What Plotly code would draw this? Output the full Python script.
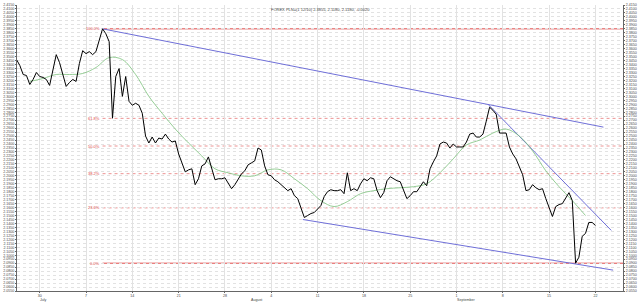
import plotly.graph_objects as go
import pandas as pd

# ---- data ----
price = [2.3463, 2.3388, 2.3275, 2.3263, 2.3150, 2.3213, 2.3300, 2.3250, 2.3238, 2.3213,
         2.3138, 2.3313, 2.3525, 2.3425, 2.3288, 2.3125, 2.3175, 2.3213, 2.3188, 2.3413,
         2.3575, 2.3538, 2.3563, 2.3525, 2.3563, 2.3725, 2.3850, 2.3788, 2.3688, 2.2725,
         2.3250, 2.3350, 2.3000, 2.3250, 2.2938, 2.2888, 2.2913, 2.2888, 2.2788, 2.2500,
         2.2413, 2.2488, 2.2413, 2.2475, 2.2463, 2.2525, 2.2463, 2.2425, 2.2438, 2.2275,
         2.2150, 2.2050, 2.2075, 2.2088, 2.1888, 2.1963, 2.2125, 2.2150, 2.2238, 2.2100,
         2.1950, 2.1963, 2.1963, 2.1975, 2.1900, 2.1838, 2.1888, 2.1963, 2.2025, 2.2063,
         2.2138, 2.2163, 2.2188, 2.2350, 2.2325, 2.2125, 2.2013, 2.2000, 2.1950, 2.1925,
         2.1888, 2.1850, 2.1813, 2.1838, 2.1750, 2.1713, 2.1600, 2.1475, 2.1500, 2.1525,
         2.1538, 2.1588, 2.1625, 2.1738, 2.1800, 2.1825, 2.1813, 2.1813, 2.1825, 2.1775,
         2.2038, 2.1813, 2.1838, 2.1813, 2.1900, 2.1963, 2.1938, 2.1975, 2.1963, 2.1813,
         2.1725, 2.1788, 2.1938, 2.1988, 2.1963, 2.1938, 2.1925, 2.1813, 2.1713, 2.1750,
         2.1800, 2.1800, 2.1863, 2.1925, 2.1875, 2.2088, 2.2175, 2.2250, 2.2400, 2.2425,
         2.2413, 2.2350, 2.2400, 2.2363, 2.2363, 2.2363, 2.2425, 2.2525, 2.2538, 2.2488,
         2.2488, 2.2525, 2.2688, 2.2863, 2.2825, 2.2775, 2.2538, 2.2538, 2.2538, 2.2363,
         2.2275, 2.2213, 2.2113, 2.2013, 2.1813, 2.1825, 2.1888, 2.1850, 2.1825, 2.1838,
         2.1713, 2.1600, 2.1488, 2.1613, 2.1638, 2.1650, 2.1713, 2.1788, 2.1688, 2.0900,
         2.0975, 2.1238, 2.1275, 2.1413, 2.1413, 2.1375]
price_start = "2008-06-26 12:00"
price_freq = "12h"

ma = [2.3188, 2.3225, 2.3275, 2.3275, 2.3288, 2.3363, 2.3488, 2.3463, 2.3275, 2.3000,
      2.2788, 2.2588, 2.2413, 2.2250, 2.2088, 2.2038, 2.2000, 2.2000, 2.2075, 2.2075,
      2.1963, 2.1838, 2.1688, 2.1613, 2.1675, 2.1775, 2.1813, 2.1838, 2.1850, 2.1863,
      2.1900, 2.2038, 2.2213, 2.2388, 2.2450, 2.2538, 2.2588, 2.2500, 2.2313, 2.2063,
      2.1863, 2.1688, 2.1500]
ma_start = "2008-06-28 12:00"
ma_freq = "2D"

fib_high = 2.3850
fib_low = 2.0900
fib_ratios = [1.0, 0.618, 0.5, 0.382, 0.236, 0.0]
fib_labels = ["100.0%", "61.8%", "50.0%", "38.2%", "23.6%", "0.0%"]
fib_start = "2008-07-09 12:00"

trend_x0 = ["2008-07-09 12:00", "2008-09-05 18:30", "2008-08-08 18:30"]
trend_y0 = [2.3850, 2.2900, 2.1450]
trend_x1 = ["2008-09-23 05:00", "2008-09-24 09:20", "2008-09-24 16:20"]
trend_y1 = [2.2613, 2.1313, 2.0813]

tick_dates = ["2008-06-30", "2008-07-07", "2008-07-14", "2008-07-21", "2008-07-28",
              "2008-08-04", "2008-08-11", "2008-08-18", "2008-08-25", "2008-09-01",
              "2008-09-08", "2008-09-15", "2008-09-22"]
tick_labels = ["30", "7", "14", "21", "28", "4", "11", "18", "25", "1", "8", "15", "22"]
month_dates = ["2008-06-30", "2008-08-01", "2008-09-01"]
month_labels = ["July", "August", "September"]

title_text = "FOREX PLN=(1 12/10) 2.3855, 2.1180, 2.1180, -0.0020"

y_range = [2.055, 2.415]
x_range = ["2008-06-26 13:40", "2008-09-26 04:00"]

# ---- figure ----
px = pd.date_range(price_start, periods=len(price), freq=price_freq)
mx = pd.date_range(ma_start, periods=len(ma), freq=ma_freq)

FONT = "Liberation Sans"
RED = "#e04848"
BLUE = "#6f6fd8"

fig = go.Figure()

shapes = []
annotations = []
for r, lab in zip(fib_ratios, fib_labels):
    lvl = fib_low + r * (fib_high - fib_low)
    solid = r in (0.0, 1.0)
    shapes.append(dict(type="line", xref="x", yref="y", x0=fib_start, x1=x_range[1],
                       y0=lvl, y1=lvl,
                       line=dict(color=RED if solid else "#e87878",
                                 width=1 if solid else 0.8,
                                 dash="solid" if solid else "dot"),
                       layer="below"))
    annotations.append(dict(x=fib_start, y=lvl, xref="x", yref="y", text=lab,
                            showarrow=False, xanchor="right", yanchor="middle",
                            xshift=-1, font=dict(size=4, color=RED, family=FONT)))

for a, b, c, d in zip(trend_x0, trend_y0, trend_x1, trend_y1):
    fig.add_trace(go.Scatter(x=[a, c], y=[b, d], mode="lines",
                             line=dict(color=BLUE, width=1), hoverinfo="skip"))

fig.add_trace(go.Scatter(x=mx, y=ma, mode="lines",
                         line=dict(color="#7cc27c", width=0.8, shape="spline")))
fig.add_trace(go.Scatter(x=px, y=price, mode="lines", line=dict(color="#000000", width=1)))
fig.add_trace(go.Scatter(x=[px[0]], y=[price[0]], yaxis="y2", mode="markers",
                         marker=dict(opacity=0), hoverinfo="skip"))

for d, t in zip(month_dates, month_labels):
    annotations.append(dict(x=d, y=-0.0325, xref="x", yref="paper", text=t, showarrow=False,
                            xanchor="left", yanchor="middle", xshift=-2,
                            font=dict(size=3.6, color="#444", family=FONT)))

annotations.append(dict(x=0.5, y=1.0, xref="paper", yref="paper", text=title_text,
                        showarrow=False, xanchor="center", yanchor="top",
                        font=dict(size=4, color="#444", family=FONT)))

axis_common = dict(tickfont=dict(size=3.6, color="#444", family=FONT),
                   linecolor="#666", linewidth=1, showline=True, ticks="outside",
                   ticklen=1, tickcolor="#666")

fig.update_layout(
    width=640, height=302,
    margin=dict(l=12, r=13, t=3, b=11),
    paper_bgcolor="white", plot_bgcolor="white",
    showlegend=False,
    shapes=shapes, annotations=annotations,
    xaxis=dict(type="date", range=x_range, tickmode="array", tickvals=tick_dates,
               ticktext=tick_labels, showgrid=True, gridcolor="#e2e2e2", gridwidth=0.8,
               griddash="solid", zeroline=False, **axis_common),
    yaxis=dict(range=y_range, tickmode="linear", tick0=2.055, dtick=0.005,
               tickformat=".4f", showgrid=True, gridcolor="#e2e2e2", gridwidth=0.6,
               griddash="dot", zeroline=False, side="left", **axis_common),
    yaxis2=dict(range=y_range, tickmode="linear", tick0=2.055, dtick=0.005,
                tickformat=".4f", overlaying="y", side="right", showgrid=False,
                zeroline=False, **axis_common),
)

fig.write_html("out.html")
